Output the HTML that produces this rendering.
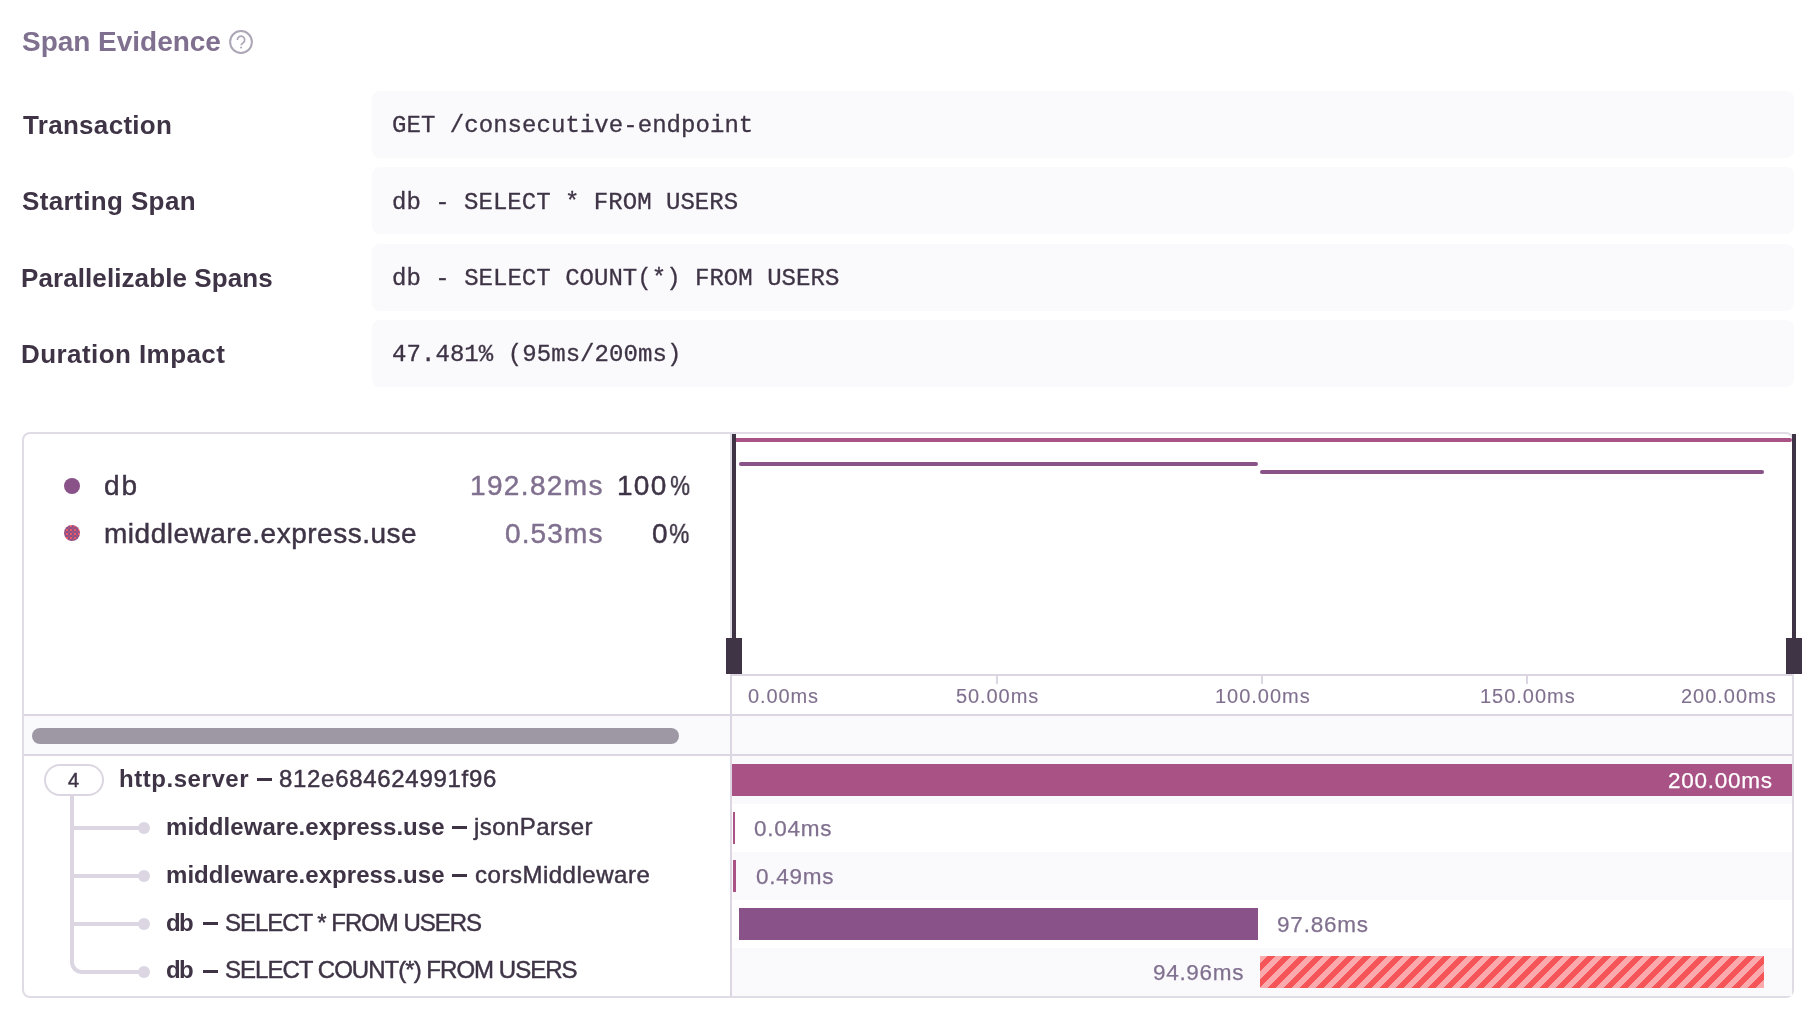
<!DOCTYPE html>
<html><head><meta charset="utf-8"><style>
html,body{margin:0;padding:0;background:#FFFFFF;width:1820px;height:1020px;overflow:hidden;}
body{position:relative;}
div{position:absolute;box-sizing:border-box;}
.t{white-space:pre;will-change:transform;}
</style></head><body>
<div class="t" style="left:21.90px;top:25.00px;font-family:'Liberation Sans', sans-serif;font-size:28px;line-height:34px;color:#80708F;font-weight:700;letter-spacing:-0.025px;">Span Evidence</div>
<svg style="position:absolute;left:0;top:0" width="300" height="70" viewBox="0 0 300 70"><circle cx="241" cy="42" r="10.9" fill="none" stroke="#ADA6B7" stroke-width="2"/><path d="M237.4,39.9 A3.65,3.65 0 1 1 243.3,42.7 Q241.1,44.1 241.1,45.3" fill="none" stroke="#ADA6B7" stroke-width="1.7" stroke-linecap="butt"/><circle cx="241.1" cy="47.4" r="1.0" fill="#ADA6B7"/></svg>
<div class="t" style="left:22.70px;top:110.00px;font-family:'Liberation Sans', sans-serif;font-size:26px;line-height:31px;color:#3E3446;font-weight:700;letter-spacing:0.300px;">Transaction</div>
<div class="t" style="left:21.80px;top:185.50px;font-family:'Liberation Sans', sans-serif;font-size:26px;line-height:31px;color:#3E3446;font-weight:700;letter-spacing:0.383px;">Starting Span</div>
<div class="t" style="left:20.80px;top:262.50px;font-family:'Liberation Sans', sans-serif;font-size:26px;line-height:31px;color:#3E3446;font-weight:700;letter-spacing:0.089px;">Parallelizable Spans</div>
<div class="t" style="left:20.80px;top:338.50px;font-family:'Liberation Sans', sans-serif;font-size:26px;line-height:31px;color:#3E3446;font-weight:700;letter-spacing:0.429px;">Duration Impact</div>
<div style="left:372px;top:91px;width:1422px;height:67px;background:#FAF9FB;border-radius:8px;"></div>
<div style="left:372px;top:167px;width:1422px;height:67px;background:#FAF9FB;border-radius:8px;"></div>
<div style="left:372px;top:244px;width:1422px;height:67px;background:#FAF9FB;border-radius:8px;"></div>
<div style="left:372px;top:320px;width:1422px;height:67px;background:#FAF9FB;border-radius:8px;"></div>
<div class="t" style="left:391.80px;top:111.00px;font-family:'Liberation Mono', monospace;font-size:24px;line-height:29px;color:#3E3446;font-weight:400;letter-spacing:0.050px;-webkit-text-stroke:0.3px #3E3446;">GET /consecutive-endpoint</div>
<div class="t" style="left:391.50px;top:187.50px;font-family:'Liberation Mono', monospace;font-size:24px;line-height:29px;color:#3E3446;font-weight:400;letter-spacing:0.017px;-webkit-text-stroke:0.3px #3E3446;">db - SELECT * FROM USERS</div>
<div class="t" style="left:391.50px;top:264.00px;font-family:'Liberation Mono', monospace;font-size:24px;line-height:29px;color:#3E3446;font-weight:400;letter-spacing:0.027px;-webkit-text-stroke:0.3px #3E3446;">db - SELECT COUNT(*) FROM USERS</div>
<div class="t" style="left:392.00px;top:340.00px;font-family:'Liberation Mono', monospace;font-size:24px;line-height:29px;color:#3E3446;font-weight:400;letter-spacing:0.068px;-webkit-text-stroke:0.3px #3E3446;">47.481% (95ms/200ms)</div>
<div style="left:22px;top:432px;width:1772px;height:566px;border:2px solid #E0DCE5;border-radius:8px;"></div>
<div style="left:24px;top:716px;width:1768px;height:38px;background:#FAF9FB;"></div>
<div style="left:732px;top:756px;width:1060px;height:48px;background:#FAF9FB;"></div>
<div style="left:732px;top:852px;width:1060px;height:48px;background:#FAF9FB;"></div>
<div style="left:732px;top:948px;width:1060px;height:48px;background:#FAF9FB;"></div>
<div style="left:730px;top:434px;width:2px;height:562px;background:#E0DCE5;"></div>
<div style="left:730px;top:674px;width:2px;height:322px;background:#DBD6E1;"></div>
<div style="left:730px;top:674px;width:1062px;height:2px;background:#DBD6E1;"></div>
<div style="left:24px;top:714px;width:1768px;height:2px;background:#DBD6E1;"></div>
<div style="left:24px;top:754px;width:1768px;height:2px;background:#DBD6E1;"></div>
<div style="left:996px;top:676px;width:2px;height:8px;background:#DBD6E1;"></div>
<div style="left:1261px;top:676px;width:2px;height:8px;background:#DBD6E1;"></div>
<div style="left:1526px;top:676px;width:2px;height:8px;background:#DBD6E1;"></div>
<div style="left:32px;top:728px;width:647px;height:16px;background:#9E98A5;border-radius:8px;"></div>
<div style="left:64px;top:478px;width:16px;height:16px;background:#895289;border-radius:50%;"></div>
<div style="left:64px;top:525px;width:16px;height:16px;background:conic-gradient(#F05A62 0 25%,#8A508A 0 50%,#A8557C 0 75%,#8A508A 0 100%) 0 0/4px 4px;border-radius:50%;"></div>
<div class="t" style="left:104.30px;top:469.00px;font-family:'Liberation Sans', sans-serif;font-size:28px;line-height:34px;color:#3E3446;font-weight:400;letter-spacing:1.900px;-webkit-text-stroke:0.45px #3E3446;">db</div>
<div class="t" style="left:104.30px;top:517.00px;font-family:'Liberation Sans', sans-serif;font-size:28px;line-height:34px;color:#3E3446;font-weight:400;letter-spacing:0.510px;-webkit-text-stroke:0.45px #3E3446;">middleware.express.use</div>
<div class="t" style="left:469.60px;top:469.00px;font-family:'Liberation Sans', sans-serif;font-size:28px;line-height:34px;color:#80708F;font-weight:400;letter-spacing:1.357px;-webkit-text-stroke:0.45px #80708F;">192.82ms</div>
<div class="t" style="left:616.90px;top:469.00px;font-family:'Liberation Sans', sans-serif;font-size:28px;line-height:34px;color:#3E3446;font-weight:400;letter-spacing:1.300px;-webkit-text-stroke:0.45px #3E3446;">100</div>
<div class="t" style="left:669.50px;top:469.00px;font-family:'Liberation Sans', sans-serif;font-size:28px;line-height:34px;color:#3E3446;font-weight:400;-webkit-text-stroke:0.45px #3E3446;transform:scaleX(0.7957);transform-origin:1.00px 0;">%</div>
<div class="t" style="left:504.50px;top:517.00px;font-family:'Liberation Sans', sans-serif;font-size:28px;line-height:34px;color:#80708F;font-weight:400;letter-spacing:1.120px;-webkit-text-stroke:0.45px #80708F;">0.53ms</div>
<div class="t" style="left:651.50px;top:517.00px;font-family:'Liberation Sans', sans-serif;font-size:28px;line-height:34px;color:#3E3446;font-weight:400;-webkit-text-stroke:0.45px #3E3446;">0</div>
<div class="t" style="left:669.20px;top:517.00px;font-family:'Liberation Sans', sans-serif;font-size:28px;line-height:34px;color:#3E3446;font-weight:400;-webkit-text-stroke:0.45px #3E3446;transform:scaleX(0.8087);transform-origin:1.00px 0;">%</div>
<div style="left:732px;top:438px;width:1060px;height:4px;background:#A85285;border-radius:2px;"></div>
<div style="left:739px;top:462px;width:519px;height:4px;background:#895289;border-radius:2px;"></div>
<div style="left:1260px;top:470px;width:504px;height:4px;background:#895289;border-radius:2px;"></div>
<div style="left:732px;top:434px;width:4px;height:210px;background:#3E3446;"></div>
<div style="left:726px;top:638px;width:16px;height:36px;background:#3E3446;"></div>
<div style="left:1792px;top:434px;width:4px;height:210px;background:#3E3446;"></div>
<div style="left:1786px;top:638px;width:16px;height:36px;background:#3E3446;"></div>
<div class="t" style="left:748.10px;top:684.00px;font-family:'Liberation Sans', sans-serif;font-size:20px;line-height:24px;color:#80708F;font-weight:400;letter-spacing:0.880px;-webkit-text-stroke:0.12px #80708F;">0.00ms</div>
<div class="t" style="left:955.90px;top:684.00px;font-family:'Liberation Sans', sans-serif;font-size:20px;line-height:24px;color:#80708F;font-weight:400;letter-spacing:0.917px;-webkit-text-stroke:0.12px #80708F;">50.00ms</div>
<div class="t" style="left:1214.50px;top:684.00px;font-family:'Liberation Sans', sans-serif;font-size:20px;line-height:24px;color:#80708F;font-weight:400;letter-spacing:0.971px;-webkit-text-stroke:0.12px #80708F;">100.00ms</div>
<div class="t" style="left:1479.60px;top:684.00px;font-family:'Liberation Sans', sans-serif;font-size:20px;line-height:24px;color:#80708F;font-weight:400;letter-spacing:0.971px;-webkit-text-stroke:0.12px #80708F;">150.00ms</div>
<div class="t" style="left:1681.00px;top:684.00px;font-family:'Liberation Sans', sans-serif;font-size:20px;line-height:24px;color:#80708F;font-weight:400;letter-spacing:0.971px;-webkit-text-stroke:0.12px #80708F;">200.00ms</div>
<div style="left:44px;top:764px;width:60px;height:32px;border:2px solid #DBD6E1;border-radius:16px;"></div>
<div class="t" style="left:68.20px;top:768.00px;font-family:'Liberation Sans', sans-serif;font-size:20px;line-height:24px;color:#3E3446;font-weight:400;-webkit-text-stroke:0.45px #3E3446;">4</div>
<div style="left:70px;top:796px;width:4px;height:130px;background:#DBD6E1;"></div>
<div style="left:70px;top:916px;width:14px;height:58px;border-left:4px solid #DBD6E1;border-bottom:4px solid #DBD6E1;border-bottom-left-radius:12px;"></div>
<div style="left:72px;top:826px;width:72px;height:4px;background:#DBD6E1;"></div>
<div style="left:72px;top:874px;width:72px;height:4px;background:#DBD6E1;"></div>
<div style="left:72px;top:922px;width:72px;height:4px;background:#DBD6E1;"></div>
<div style="left:82px;top:970px;width:62px;height:4px;background:#DBD6E1;"></div>
<div style="left:138px;top:822px;width:12px;height:12px;background:#DBD6E1;border-radius:50%;"></div>
<div style="left:138px;top:870px;width:12px;height:12px;background:#DBD6E1;border-radius:50%;"></div>
<div style="left:138px;top:918px;width:12px;height:12px;background:#DBD6E1;border-radius:50%;"></div>
<div style="left:138px;top:966px;width:12px;height:12px;background:#DBD6E1;border-radius:50%;"></div>
<div style="left:257px;top:778px;width:15px;height:3px;background:#3E3446;"></div>
<div style="left:452px;top:826px;width:15px;height:3px;background:#3E3446;"></div>
<div style="left:452px;top:874px;width:15px;height:3px;background:#3E3446;"></div>
<div style="left:202.5px;top:922px;width:15.3px;height:3px;background:#3E3446;"></div>
<div style="left:202.5px;top:970px;width:15.3px;height:3px;background:#3E3446;"></div>
<div class="t" style="left:119.30px;top:764.00px;font-family:'Liberation Sans', sans-serif;font-size:24px;line-height:29px;color:#3E3446;font-weight:700;letter-spacing:0.550px;">http.server</div>
<div class="t" style="left:278.90px;top:764.00px;font-family:'Liberation Sans', sans-serif;font-size:24px;line-height:29px;color:#3E3446;font-weight:400;letter-spacing:0.693px;-webkit-text-stroke:0.45px #3E3446;">812e684624991f96</div>
<div class="t" style="left:166.20px;top:812.30px;font-family:'Liberation Sans', sans-serif;font-size:24px;line-height:29px;color:#3E3446;font-weight:700;letter-spacing:0.052px;">middleware.express.use</div>
<div class="t" style="left:474.20px;top:812.30px;font-family:'Liberation Sans', sans-serif;font-size:24px;line-height:29px;color:#3E3446;font-weight:400;letter-spacing:0.422px;-webkit-text-stroke:0.45px #3E3446;">jsonParser</div>
<div class="t" style="left:166.20px;top:859.60px;font-family:'Liberation Sans', sans-serif;font-size:24px;line-height:29px;color:#3E3446;font-weight:700;letter-spacing:0.052px;">middleware.express.use</div>
<div class="t" style="left:474.50px;top:859.60px;font-family:'Liberation Sans', sans-serif;font-size:24px;line-height:29px;color:#3E3446;font-weight:400;letter-spacing:0.515px;-webkit-text-stroke:0.45px #3E3446;">corsMiddleware</div>
<div class="t" style="left:166.20px;top:907.60px;font-family:'Liberation Sans', sans-serif;font-size:24px;line-height:29px;color:#3E3446;font-weight:700;letter-spacing:-1.700px;">db</div>
<div class="t" style="left:224.80px;top:907.60px;font-family:'Liberation Sans', sans-serif;font-size:24px;line-height:29px;color:#3E3446;font-weight:400;letter-spacing:-1.033px;-webkit-text-stroke:0.45px #3E3446;">SELECT * FROM USERS</div>
<div class="t" style="left:166.20px;top:954.80px;font-family:'Liberation Sans', sans-serif;font-size:24px;line-height:29px;color:#3E3446;font-weight:700;letter-spacing:-1.700px;">db</div>
<div class="t" style="left:224.80px;top:954.80px;font-family:'Liberation Sans', sans-serif;font-size:24px;line-height:29px;color:#3E3446;font-weight:400;letter-spacing:-0.972px;-webkit-text-stroke:0.45px #3E3446;">SELECT COUNT(*) FROM USERS</div>
<div style="left:732px;top:764px;width:1060px;height:32px;background:#A85285;"></div>
<div style="left:733px;top:812px;width:2px;height:32px;background:#A85285;"></div>
<div style="left:733px;top:860px;width:3px;height:32px;background:#A85285;"></div>
<div style="left:739px;top:908px;width:519px;height:32px;background:#895289;"></div>
<div style="left:1260px;top:956px;width:504px;height:32px;background-image:linear-gradient(135deg,#FAA9AC 25%,#F55459 25%,#F55459 50%,#FAA9AC 50%,#FAA9AC 75%,#F55459 75%,#F55459);background-size:16px 16px;background-position:0px -1px;"></div>
<div class="t" style="left:1667.70px;top:767.00px;font-family:'Liberation Sans', sans-serif;font-size:22.5px;line-height:27px;color:#FFFFFF;font-weight:400;letter-spacing:0.729px;-webkit-text-stroke:0.25px #FFFFFF;">200.00ms</div>
<div class="t" style="left:754.40px;top:814.60px;font-family:'Liberation Sans', sans-serif;font-size:22.5px;line-height:27px;color:#80708F;font-weight:400;letter-spacing:0.760px;-webkit-text-stroke:0.25px #80708F;">0.04ms</div>
<div class="t" style="left:755.70px;top:862.60px;font-family:'Liberation Sans', sans-serif;font-size:22.5px;line-height:27px;color:#80708F;font-weight:400;letter-spacing:0.760px;-webkit-text-stroke:0.25px #80708F;">0.49ms</div>
<div class="t" style="left:1277.20px;top:910.60px;font-family:'Liberation Sans', sans-serif;font-size:22.5px;line-height:27px;color:#80708F;font-weight:400;letter-spacing:0.800px;-webkit-text-stroke:0.25px #80708F;">97.86ms</div>
<div class="t" style="left:1153.30px;top:958.60px;font-family:'Liberation Sans', sans-serif;font-size:22.5px;line-height:27px;color:#80708F;font-weight:400;letter-spacing:0.683px;-webkit-text-stroke:0.25px #80708F;">94.96ms</div>
</body></html>
